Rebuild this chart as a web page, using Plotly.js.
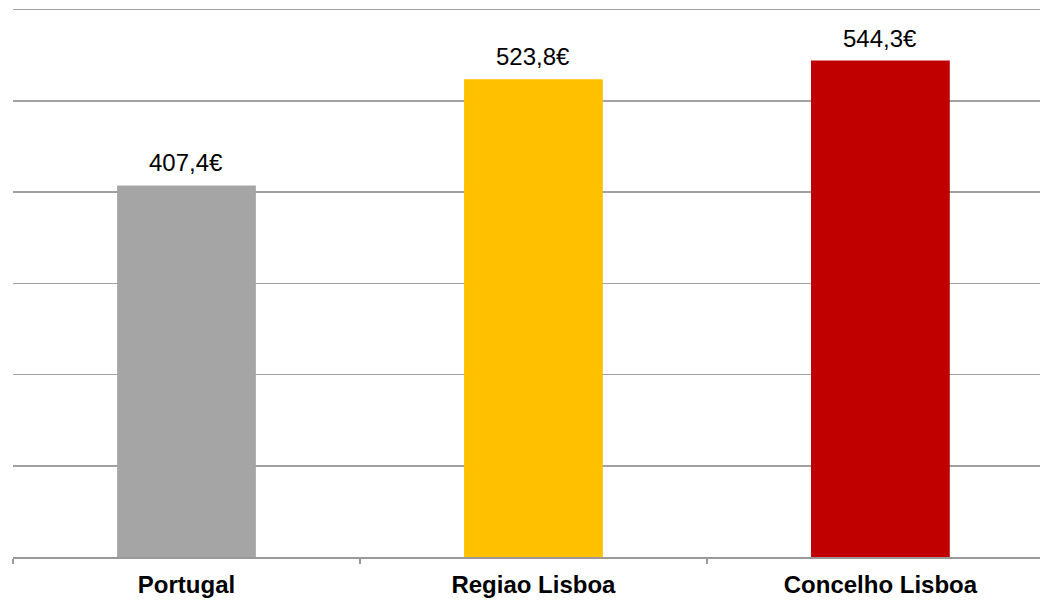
<!DOCTYPE html>
<html>
<head>
<meta charset="utf-8">
<script src="https://cdn.plot.ly/plotly-3.0.1.min.js"></script>
<style>html,body{margin:0;padding:0;background:#fff;overflow:hidden;}</style>
</head>
<body>
<div id="chart" style="width:1040px;height:600px;"></div>
<script>
const categories = ["Portugal", "Regiao Lisboa", "Concelho Lisboa"];
const values = [407.4, 523.8, 544.3];
const valueLabels = ["407,4€", "523,8€", "544,3€"];
const colors = ["#a5a5a5", "#ffc000", "#c00000"];

const FONT = "Liberation Sans, Arial, sans-serif";

const trace = {
  type: "bar",
  x: categories,
  y: values,
  marker: { color: colors },
  hoverinfo: "none"
};

const annotations = categories.map((c, i) => ({
  x: c,
  y: values[i],
  xref: "x",
  yref: "y",
  text: valueLabels[i],
  showarrow: false,
  yanchor: "bottom",
  yshift: 7,
  font: { family: FONT, size: 24, color: "#000" }
}));

const layout = {
  width: 1040,
  height: 600,
  margin: { l: 13, r: 0, t: 7.26, b: 42.5 },
  paper_bgcolor: "#fff",
  plot_bgcolor: "#fff",
  bargap: 0.6,
  showlegend: false,
  annotations: annotations,
  xaxis: {
    type: "category",
    range: [-0.5, 2.46],
    tickson: "boundaries",
    ticks: "outside",
    ticklen: 5,
    tickwidth: 1.5,
    tickcolor: "#999",
    showline: true,
    linecolor: "#999",
    linewidth: 1.5,
    showgrid: false,
    ticklabelstandoff: 6,
    tickfont: { family: FONT, size: 24, color: "#000", weight: "bold" }
  },
  yaxis: {
    range: [0, 603],
    tickvals: [100, 200, 300, 400, 500, 600],
    showticklabels: false,
    showgrid: true,
    gridcolor: "#a0a0a0",
    gridwidth: 1.5,
    zeroline: false,
    showline: false,
    ticks: ""
  }
};

Plotly.newPlot("chart", [trace], layout, { displayModeBar: false, staticPlot: true });
</script>
</body>
</html>
